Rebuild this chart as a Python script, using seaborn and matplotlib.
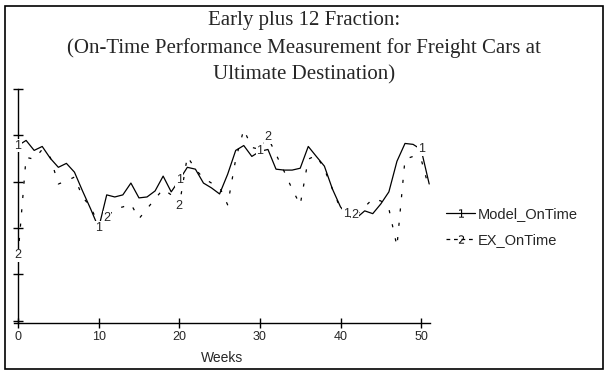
import numpy as np
import pandas as pd
import matplotlib
matplotlib.use("Agg")
import matplotlib.pyplot as plt
from matplotlib.lines import Line2D
from matplotlib.patches import Rectangle
import seaborn as sns

# ---- data ----
weeks = list(range(52))
model_ontime = [0.756, 0.778, 0.735, 0.752, 0.701, 0.662, 0.679, 0.641, 0.560, 0.483,
                0.400, 0.543, 0.534, 0.543, 0.594, 0.530, 0.534, 0.560, 0.624, 0.556,
                0.607, 0.662, 0.654, 0.594, 0.573, 0.547, 0.632, 0.735, 0.756, 0.709,
                0.731, 0.739, 0.654, 0.650, 0.650, 0.658, 0.752, 0.709, 0.667, 0.568,
                0.491, 0.449, 0.444, 0.474, 0.462, 0.504, 0.556, 0.688, 0.765, 0.761,
                0.739, 0.590]
ex_ontime = [0.282, 0.705, 0.697, 0.739, 0.705, 0.590, 0.603, 0.620, 0.534, 0.491,
             0.415, 0.444, 0.483, 0.491, 0.504, 0.440, 0.483, 0.526, 0.568, 0.543,
             0.496, 0.709, 0.654, 0.615, 0.594, 0.577, 0.500, 0.697, 0.825, 0.748,
             0.739, 0.791, 0.718, 0.645, 0.568, 0.500, 0.697, 0.714, 0.654, 0.568,
             0.483, 0.453, 0.457, 0.491, 0.526, 0.517, 0.483, 0.321, 0.697, 0.709,
             0.697, 0.568]
label1_weeks = [0, 10, 20, 30, 40.7, 50]
label2_weeks = [0, 11, 20, 31, 41.8]
series_names = ["Model_OnTime", "EX_OnTime"]
x_ticks = [0, 10, 20, 30, 40, 50]
y_ticks = [0.0, 0.2, 0.4, 0.6, 0.8, 1.0]
title = "Early plus 12 Fraction:\n(On-Time Performance Measurement for Freight Cars at\nUltimate Destination)"

df = pd.DataFrame({"week": weeks, "model": model_ontime, "ex": ex_ontime})

sns.set_style("white")
plt.rcParams["font.family"] = ["Liberation Sans", "DejaVu Sans"]

W, H = 608, 375
fig = plt.figure(figsize=(W / 100, H / 100), dpi=100)
ax = fig.add_axes([14 / W, 52 / H, (430 - 14) / W, 234 / H])

sns.lineplot(data=df, x="week", y="model", ax=ax, color="black", lw=0.9,
             estimator=None)
sns.lineplot(data=df, x="week", y="ex", ax=ax, color="black", lw=0.9,
             estimator=None, linestyle=(0, (2.5, 9)))

for wk in label1_weeks:
    ax.text(wk, np.interp(wk, weeks, model_ontime), "1", ha="center", va="center",
            fontsize=9, zorder=5,
            bbox=dict(boxstyle="square,pad=0.05", fc="white", ec="none"))
for wk in label2_weeks:
    ax.text(wk, np.interp(wk, weeks, ex_ontime), "2", ha="center", va="center",
            fontsize=9, zorder=5,
            bbox=dict(boxstyle="square,pad=0.05", fc="white", ec="none"))

ax.set_xlim(-0.5, 51.1)
ax.set_ylim(-0.01, 1.0)
ax.spines["left"].set_position(("data", 0))
ax.spines["right"].set_visible(False)
ax.spines["top"].set_visible(False)
for s in ["left", "bottom"]:
    ax.spines[s].set_color("black")
    ax.spines[s].set_linewidth(1.0)
ax.set_xticks(x_ticks)
ax.set_xticklabels([str(t) for t in x_ticks], fontsize=9)
ax.set_yticks(y_ticks)
ax.set_yticklabels([])
ax.tick_params(axis="both", direction="inout", length=7, width=1, color="black",
               left=True, bottom=True, pad=2)
ax.set_xlabel("Weeks", fontsize=10, labelpad=6)
ax.set_ylabel("")

fig.text(0.5, 1 - 11 / H, title, ha="center", va="top", fontsize=15,
         family=["Liberation Serif", "DejaVu Serif"], linespacing=1.52)

handles = [
    Line2D([], [], color="black", lw=0.9, marker="$1$", markersize=6,
           markerfacecolor="black", markeredgewidth=0),
    Line2D([], [], color="black", lw=0.9, linestyle=(0, (3, 3)), marker="$2$",
           markersize=6, markerfacecolor="black", markeredgewidth=0),
]
fig.legend(handles, series_names, loc="center left",
           bbox_to_anchor=(433 / W, 1 - 227 / H), frameon=False, fontsize=10.5,
           handlelength=2.0, handletextpad=0.2, labelspacing=0.85, numpoints=1)

fig.patches.append(Rectangle((5 / W, 6 / H), 598 / W, 363 / H, transform=fig.transFigure,
                             fill=False, edgecolor="black", lw=1.2))

fig.savefig("out.png", dpi=100)
